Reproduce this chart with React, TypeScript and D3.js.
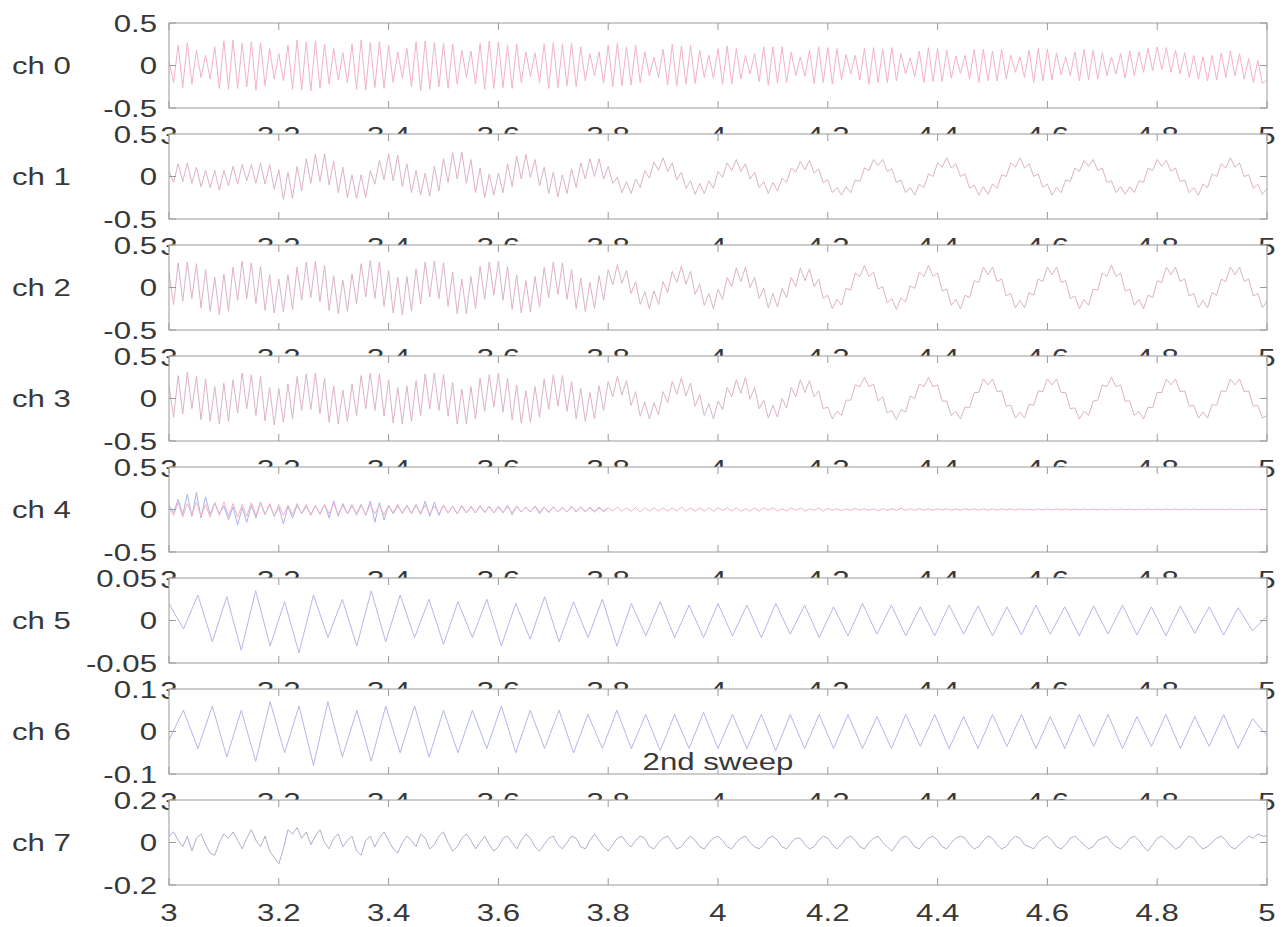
import React from "react";
import * as d3 from "d3";

// Recording window and sample spacing of the stored traces
const T_START = 3;
const T_END = 5;
const FAST_RATE = 120; // samples per second (ch0–ch4, ch7)
const SLOW_RATE = 38; // samples per second (ch5, ch6)

const channelNames = ["ch 0", "ch 1", "ch 2", "ch 3", "ch 4", "ch 5", "ch 6", "ch 7"];
const yLimits: [number, number][] = [
  [-0.5, 0.5], [-0.5, 0.5], [-0.5, 0.5], [-0.5, 0.5], [-0.5, 0.5],
  [-0.05, 0.05], [-0.1, 0.1], [-0.2, 0.2],
];
const yTicks: number[][] = [
  [-0.5, 0, 0.5], [-0.5, 0, 0.5], [-0.5, 0, 0.5], [-0.5, 0, 0.5], [-0.5, 0, 0.5],
  [-0.05, 0, 0.05], [-0.1, 0, 0.1], [-0.2, 0, 0.2],
];
const xTicks = [3, 3.2, 3.4, 3.6, 3.8, 4, 4.2, 4.4, 4.6, 4.8, 5];
const titleText = "2nd sweep";

const ch0 = [
  .05,-.2,.24,-.26,.27,-.22,.18,-.14,.12,-.16,.22,-.27,
  .29,-.28,.3,-.27,.26,-.25,.28,-.29,.27,-.24,.2,-.16,
  .14,-.18,.24,-.28,.3,-.29,.28,-.3,.29,-.27,.25,-.22,
  .2,-.17,.15,-.2,.25,-.28,.3,-.29,.27,-.26,.28,-.27,
  .24,-.2,.16,-.15,.2,-.25,.28,-.3,.29,-.28,.27,-.25,
  .26,-.27,.25,-.22,.18,-.14,.17,-.22,.26,-.28,.29,-.27,
  .28,-.26,.24,-.27,.25,-.2,.16,-.13,.15,-.2,.25,-.27,
  .27,-.26,.25,-.24,.26,-.25,.22,-.18,.14,-.12,.16,-.21,
  .24,-.25,.26,-.24,.22,-.23,.24,-.2,.16,-.12,.1,-.14,
  .19,-.23,.25,-.24,.23,-.22,.24,-.21,.18,-.14,.12,-.15,
  .2,-.22,.23,-.22,.2,-.16,.12,-.1,.14,-.19,.22,-.23,
  .22,-.21,.22,-.2,.16,-.12,.1,-.13,.18,-.21,.22,-.2,
  .21,-.22,.2,-.17,.13,-.1,.12,-.17,.2,-.22,.21,-.2,
  .19,-.2,.21,-.18,.14,-.1,.09,-.13,.17,-.2,.21,-.19,
  .2,-.19,.18,-.15,.11,-.09,.12,-.16,.19,-.2,.19,-.18,
  .17,-.18,.19,-.16,.12,-.08,.1,-.14,.18,-.2,.2,-.18,
  .19,-.17,.15,-.11,.1,-.12,.16,-.18,.19,-.17,.18,-.16,
  .15,-.12,.1,-.1,.14,-.15,.17,-.12,.16,-.08,.2,-.06,
  .22,-.05,.21,-.08,.18,-.1,.15,-.14,.12,-.16,.1,-.18,
  .12,-.17,.15,-.14,.17,-.12,.14,-.16,.08,-.2,.06,-.21,
  -.17,
];

const ch1 = [
  .06,-.07,.15,-.06,.16,-.08,.11,-.12,.07,-.13,.07,-.16,.07,-.11,.12,-.09,.14,-.05,.14,-.08,.16,-.09,.14,-.15,
  .08,-.27,.05,-.26,.12,-.17,.21,-.08,.26,-.06,.27,-.1,.18,-.19,.11,-.25,.02,-.26,.02,-.25,.07,-.09,.19,-.04,
  .27,-.05,.25,-.12,.15,-.19,.07,-.22,.04,-.23,.12,-.17,.21,-.07,.28,-.03,.29,-.08,.2,-.19,.1,-.25,.03,-.22,
  .04,-.19,.15,-.12,.24,-.03,.26,-.01,.2,-.11,.11,-.2,.05,-.24,.02,-.2,.09,-.13,.16,-.03,.21,0,.21,-.03,
  .12,-.08,-.01,-.19,-.06,-.2,-.03,-.13,.07,-.02,.17,.07,.22,.06,.16,-.04,.05,-.14,-.05,-.21,-.08,-.2,-.05,-.14,
  .06,-.01,.16,.07,.2,.06,.15,-.03,.05,-.13,-.06,-.2,-.07,-.17,-.02,-.07,.1,.05,.18,.08,.19,.04,.09,-.07,
  -.04,-.19,-.13,-.22,-.12,-.19,-.04,-.06,.1,.07,.2,.13,.2,.06,.09,-.07,-.04,-.19,-.13,-.22,-.09,-.13,.03,0,
  .16,.11,.22,.1,.15,0,.03,-.14,-.1,-.22,-.12,-.21,-.09,-.14,.02,0,.16,.11,.22,.1,.15,0,.03,-.13,
  -.09,-.22,-.13,-.19,-.04,-.06,.1,.06,.19,.12,.2,.07,.1,-.07,-.05,-.19,-.12,-.21,-.12,-.19,-.05,-.07,.1,.07,
  .2,.12,.19,.06,.1,-.06,-.04,-.19,-.13,-.22,-.09,-.13,.03,0,.15,.1,.22,.11,.16,0,.02,-.14,-.09,-.21,
  -.14,
];

const ch2 = [
  .18,-.2,.29,-.16,.3,-.13,.28,-.24,.21,-.28,.12,-.32,.16,-.28,.24,-.15,.31,-.13,.29,-.19,.25,-.27,.15,-.3,
  .1,-.29,.15,-.26,.24,-.15,.3,-.12,.31,-.17,.26,-.27,.14,-.31,.09,-.28,.16,-.19,.28,-.11,.32,-.13,.3,-.22,
  .2,-.3,.12,-.32,.13,-.28,.22,-.19,.3,-.11,.31,-.13,.29,-.22,.18,-.31,.1,-.31,.13,-.25,.25,-.14,.3,-.09,
  .31,-.15,.25,-.26,.15,-.3,.08,-.29,.13,-.23,.24,-.12,.3,-.08,.29,-.14,.21,-.25,.11,-.28,.06,-.25,.14,-.15,
  .21,.03,.27,.05,.2,-.07,.07,-.2,-.05,-.25,-.04,-.2,.07,-.06,.19,.06,.25,.04,.19,-.08,.04,-.21,-.07,-.25,
  -.02,-.14,.12,.01,.23,.07,.24,0,.12,-.13,-.01,-.24,-.07,-.23,-.01,-.12,.12,.01,.23,.08,.22,.01,.1,-.13,
  -.09,-.25,-.14,-.21,-.01,-.03,.17,.13,.26,.13,.18,-.02,.01,-.18,-.13,-.26,-.12,-.17,.02,-.01,.18,.13,.26,.13,
  .17,-.04,-.02,-.21,-.14,-.25,-.09,-.12,.08,.06,.24,.15,.24,.07,.1,-.1,-.07,-.24,-.15,-.24,-.06,-.09,.1,.07,
  .24,.15,.24,.06,.08,-.13,-.1,-.25,-.14,-.21,-.02,-.03,.17,.13,.26,.13,.17,-.04,-.02,-.21,-.14,-.25,-.09,-.12,
  .08,.06,.24,.15,.24,.07,.1,-.1,-.07,-.24,-.15,-.24,-.06,-.09,.1,.07,.24,.15,.24,.07,.1,-.1,-.07,-.24,
  -.16,
];

const ch3 = [
  .15,-.22,.27,-.18,.31,-.12,.26,-.25,.23,-.27,.14,-.3,.18,-.27,.22,-.17,.3,-.12,.28,-.2,.26,-.26,.13,-.31,
  .12,-.28,.17,-.24,.26,-.14,.29,-.13,.3,-.18,.24,-.28,.15,-.3,.1,-.27,.17,-.2,.27,-.12,.3,-.14,.29,-.21,
  .22,-.29,.13,-.3,.15,-.27,.21,-.2,.29,-.12,.3,-.14,.28,-.21,.19,-.3,.11,-.3,.14,-.24,.24,-.15,.28,-.1,
  .3,-.16,.24,-.25,.16,-.29,.09,-.28,.14,-.22,.23,-.13,.28,-.09,.27,-.15,.2,-.24,.12,-.27,.07,-.24,.15,-.14,
  .2,.02,.26,.04,.21,-.08,.08,-.21,-.04,-.24,-.05,-.19,.08,-.05,.2,.05,.24,.03,.18,-.09,.05,-.2,-.06,-.24,
  -.03,-.13,.13,.02,.22,.06,.25,-.01,.13,-.12,-.02,-.23,-.08,-.22,0,-.11,.13,.02,.22,.07,.21,.02,.09,-.12,
  -.1,-.24,-.15,-.2,-.02,-.02,.16,.14,.25,.14,.17,-.03,.02,-.17,-.14,-.25,-.13,-.16,.03,0,.17,.14,.25,.14,
  .16,-.03,-.03,-.2,-.15,-.24,-.1,-.11,.07,.07,.23,.16,.23,.08,.09,-.09,-.08,-.23,-.16,-.23,-.07,-.08,.09,.08,
  .23,.16,.23,.07,.07,-.12,-.11,-.24,-.15,-.2,-.03,-.02,.16,.14,.25,.14,.16,-.03,-.03,-.2,-.15,-.24,-.1,-.11,
  .07,.07,.23,.16,.23,.08,.09,-.09,-.08,-.23,-.16,-.23,-.07,-.08,.09,.08,.23,.16,.23,.08,.09,-.09,-.08,-.23,
  -.2,
];

// ch4 has two overlaid recordings: a steady trace and a bursty one that dies out by 3.8 s
const ch4Red = [
  .02,-.07,.08,-.09,.07,-.06,.09,-.08,.06,-.09,.08,-.07,.09,-.08,.07,-.09,.06,-.08,.08,-.07,.09,-.06,.07,-.08,
  .06,-.07,.05,-.06,.07,-.05,.06,-.07,.05,-.06,.06,-.05,.07,-.06,.05,-.05,.06,-.07,.05,-.06,.06,-.05,.05,-.06,
  .05,-.04,.06,-.05,.04,-.05,.05,-.04,.05,-.05,.04,-.05,.05,-.04,.04,-.05,.05,-.04,.04,-.04,.05,-.04,.04,-.04,
  .04,-.03,.03,-.04,.04,-.03,.03,-.03,.04,-.03,.03,-.04,.03,-.03,.03,-.03,.04,-.03,.03,-.03,.03,-.02,.03,-.03,
  .02,-.02,.03,-.02,.02,-.02,.02,-.03,.02,-.02,.02,-.02,.02,-.02,.02,-.02,.03,-.02,.02,-.02,.02,-.02,.02,-.02,
  .02,-.01,.02,-.02,.02,-.02,.01,-.02,.02,-.02,.02,-.01,.02,-.02,.01,-.02,.02,-.01,.02,-.02,.01,-.01,.02,-.02,
  .015,-.01,.01,-.015,.01,-.01,.015,-.01,.01,-.01,.01,-.015,.01,-.01,.01,-.01,.015,-.01,.01,-.01,.01,-.01,.01,-.01,
  .01,-.008,.01,-.01,.008,-.01,.01,-.008,.01,-.008,.008,-.01,.008,-.008,.01,-.008,.008,-.008,.008,-.008,.006,-.008,.008,-.006,
  .006,-.006,.008,-.006,.006,-.006,.006,-.006,.006,-.005,.005,-.006,.005,-.005,.005,-.005,.006,-.005,.005,-.005,.004,-.005,.005,-.004,
  .004,-.004,.005,-.004,.004,-.004,.004,-.004,.004,-.003,.003,-.004,.003,-.003,.004,-.003,.003,-.003,.003,-.003,.003,-.003,.003,-.003,
  0,
];
const ch4Blue = [
  .05,-.04,.12,-.06,.18,-.08,.2,-.1,.15,-.06,.08,-.05,
  .04,-.12,.03,-.18,.02,-.15,.05,-.1,.08,-.06,.06,-.08,
  .03,-.17,.04,-.1,.05,-.05,.04,-.06,.05,-.05,.06,-.1,
  .1,-.08,.07,-.05,.04,-.05,.06,-.07,.1,-.15,.08,-.12,
  .05,-.05,.04,-.04,.05,-.04,.06,-.06,.1,-.08,.09,-.07,
  .05,-.04,.04,-.05,.04,-.04,.03,-.04,.04,-.03,.03,-.04,
  .03,-.04,.05,-.06,.04,-.03,.03,-.03,.04,-.05,.03,-.03,
  .03,-.03,.02,-.03,.03,-.02,.03,-.02,.02,-.03,.02,-.02,
  .02,
];

const ch5 = [
  .02,-.01,.03,-.025,.028,-.035,.035,-.03,.022,-.038,.03,-.02,.025,-.03,.035,-.025,
  .03,-.02,.025,-.028,.022,-.02,.025,-.03,.02,-.022,.028,-.025,.022,-.02,.025,-.03,
  .02,-.018,.022,-.02,.018,-.02,.02,-.018,.018,-.02,.02,-.016,.018,-.02,.016,-.018,
  .02,-.016,.018,-.018,.016,-.018,.018,-.016,.017,-.018,.016,-.017,.018,-.016,.016,-.018,
  .017,-.016,.018,-.017,.016,-.018,.017,-.015,.016,-.017,.015,-.012,.005,
];

const ch6 = [
  -.02,.05,-.04,.06,-.06,.05,-.07,.07,-.05,.06,-.08,.07,-.06,.05,-.07,.06,
  -.05,.06,-.06,.05,-.05,.05,-.04,.06,-.05,.05,-.04,.05,-.05,.04,-.04,.05,
  -.04,.04,-.045,.04,-.04,.045,-.04,.04,-.04,.04,-.045,.04,-.04,.04,-.04,.04,
  -.04,.035,-.04,.04,-.035,.04,-.04,.035,-.04,.04,-.035,.04,-.04,.035,-.04,.04,
  -.035,.04,-.04,.035,-.035,.04,-.04,.035,-.035,.04,-.04,.03,-.01,
];

const ch7 = [
  .03,.05,.01,-.02,.03,-.04,.02,.04,-.01,-.05,-.06,0,.04,.02,.05,.01,-.03,.02,.06,.01,-.02,.03,-.04,-.07,
  -.1,-.03,.06,.04,.07,.02,.05,-.01,.03,.06,0,-.03,.02,.04,-.02,.01,.03,-.04,-.06,.01,.03,-.02,.02,.05,
  .01,-.03,-.05,0,.03,.01,-.02,.04,.02,-.03,-.01,.03,.05,0,-.04,-.02,.02,.04,.01,-.03,0,.03,-.01,-.04,
  -.02,.02,.03,0,-.03,.01,.04,.02,-.02,-.04,-.01,.02,.03,-.01,-.03,0,.03,.02,-.02,-.03,.01,.04,.01,-.02,
  -.04,-.01,.02,.03,0,-.02,.01,.03,.02,-.02,-.03,0,.02,.03,0,-.03,-.02,.01,.03,.01,-.02,-.03,0,.02,
  .03,.01,-.02,-.03,0,.02,.03,0,-.02,-.03,-.01,.02,.03,.01,-.02,-.03,0,.02,.02,-.01,-.03,-.02,.01,.03,
  .02,-.01,-.03,-.01,.02,.03,.01,-.02,-.03,0,.02,.03,0,-.02,-.04,-.01,.02,.03,.01,-.02,-.03,0,.02,.03,
  .01,-.02,-.03,0,.02,.03,.02,-.01,-.03,-.02,.01,.03,.02,-.01,-.03,-.02,.01,.03,.02,-.01,-.02,-.03,0,.02,
  .03,.01,-.02,-.03,-.01,.02,.03,.01,-.01,-.03,-.02,.01,.02,.03,0,-.02,-.03,-.01,.02,.03,.01,-.02,-.04,-.01,
  .02,.03,.01,-.01,-.03,-.02,.01,.03,.02,-.01,-.03,-.02,0,.02,.03,.01,-.02,-.03,-.01,.01,.03,.02,.04,.03,
  .03,
];

type Tone = "red" | "blue" | "mix" | "lavender" | "grey";
const traces: { ch: number; values: number[]; rate: number; tone: Tone }[] = [
  { ch: 0, values: ch0, rate: FAST_RATE, tone: "red" },
  { ch: 1, values: ch1, rate: FAST_RATE, tone: "mix" },
  { ch: 2, values: ch2, rate: FAST_RATE, tone: "mix" },
  { ch: 3, values: ch3, rate: FAST_RATE, tone: "mix" },
  { ch: 4, values: ch4Blue, rate: FAST_RATE, tone: "blue" },
  { ch: 4, values: ch4Red, rate: FAST_RATE, tone: "red" },
  { ch: 5, values: ch5, rate: SLOW_RATE, tone: "lavender" },
  { ch: 6, values: ch6, rate: SLOW_RATE, tone: "lavender" },
  { ch: 7, values: ch7, rate: FAST_RATE, tone: "grey" },
];

const toneColor: Record<Tone, string> = {
  red: "#f3b2c6",
  blue: "#a9b3e8",
  mix: "#dcb2c9",
  lavender: "#b3b7ea",
  grey: "#b7abcf",
};

// Page geometry
const W = 1288;
const H = 927;
const LEFT = 169;
const RIGHT = 1267;
const TOP0 = 23;
const STEP = 111;
const PANEL_H = 85;
const TICK = 7;
const FONT = "'Liberation Sans', Arial, Helvetica, sans-serif";
const FONT_SIZE = 24;
const STRETCH = 1.3;
const TEXT = "#383838";
const FRAME = "#9a9a9a";

const x = d3.scaleLinear().domain([T_START, T_END]).range([LEFT, RIGHT]);

function Label(props: { x: number; y: number; anchor: "start" | "middle" | "end"; children: string }) {
  return (
    <text
      transform={`translate(${props.x},${props.y}) scale(${STRETCH},1)`}
      textAnchor={props.anchor}
      fontFamily={FONT}
      fontSize={FONT_SIZE}
      fill={TEXT}
    >
      {props.children}
    </text>
  );
}

function Panel({ idx }: { idx: number }) {
  const top = TOP0 + STEP * idx;
  const bottom = top + PANEL_H;
  const y = d3.scaleLinear().domain(yLimits[idx]).range([bottom, top]);
  const clipId = `clip-${idx}`;
  const line = (rate: number) =>
    d3
      .line<number>()
      .x((_, i) => x(T_START + i / rate))
      .y((v) => y(v));

  return (
    <g>
      <clipPath id={clipId}>
        <rect x={LEFT} y={top} width={RIGHT - LEFT} height={PANEL_H} />
      </clipPath>
      <rect x={LEFT} y={top} width={RIGHT - LEFT} height={PANEL_H} fill="#fff" />
      <g clipPath={`url(#${clipId})`}>
        {traces
          .filter((t) => t.ch === idx)
          .map((t, k) => (
            <path
              key={k}
              d={line(t.rate)(t.values) || ""}
              fill="none"
              stroke={toneColor[t.tone]}
              strokeWidth={1}
              strokeLinejoin="round"
            />
          ))}
      </g>
      <rect
        x={LEFT}
        y={top}
        width={RIGHT - LEFT}
        height={PANEL_H}
        fill="none"
        stroke={FRAME}
        strokeWidth={1}
      />
      {xTicks.map((t) => (
        <g key={`xt${t}`} stroke={FRAME} strokeWidth={1}>
          <line x1={x(t)} x2={x(t)} y1={top} y2={top + TICK} />
          <line x1={x(t)} x2={x(t)} y1={bottom} y2={bottom - TICK} />
        </g>
      ))}
      {yTicks[idx].map((t) => (
        <g key={`yt${t}`} stroke={FRAME} strokeWidth={1}>
          <line x1={LEFT} x2={LEFT + TICK} y1={y(t)} y2={y(t)} />
          <line x1={RIGHT} x2={RIGHT - TICK} y1={y(t)} y2={y(t)} />
        </g>
      ))}
      {yTicks[idx].map((t) => (
        <Label key={`yl${t}`} x={LEFT - 12} y={y(t) + 8.5} anchor="end">
          {String(t)}
        </Label>
      ))}
      {xTicks.map((t) => (
        <Label key={`xl${t}`} x={x(t)} y={bottom + 36} anchor="middle">
          {String(t)}
        </Label>
      ))}
      <Label x={12} y={y(0) + 8.5} anchor="start">
        {channelNames[idx]}
      </Label>
    </g>
  );
}

export default function App() {
  const lastTop = TOP0 + STEP * (channelNames.length - 1);
  return (
    <svg
      width={W}
      height={H}
      style={{ position: "absolute", left: 0, top: 0, background: "#fff" }}
    >
      <rect x={0} y={0} width={W} height={H} fill="#fff" />
      {channelNames.map((_, i) => (
        <Panel key={i} idx={i} />
      ))}
      <Label x={(LEFT + RIGHT) / 2} y={lastTop - 30} anchor="middle">
        {titleText}
      </Label>
    </svg>
  );
}
